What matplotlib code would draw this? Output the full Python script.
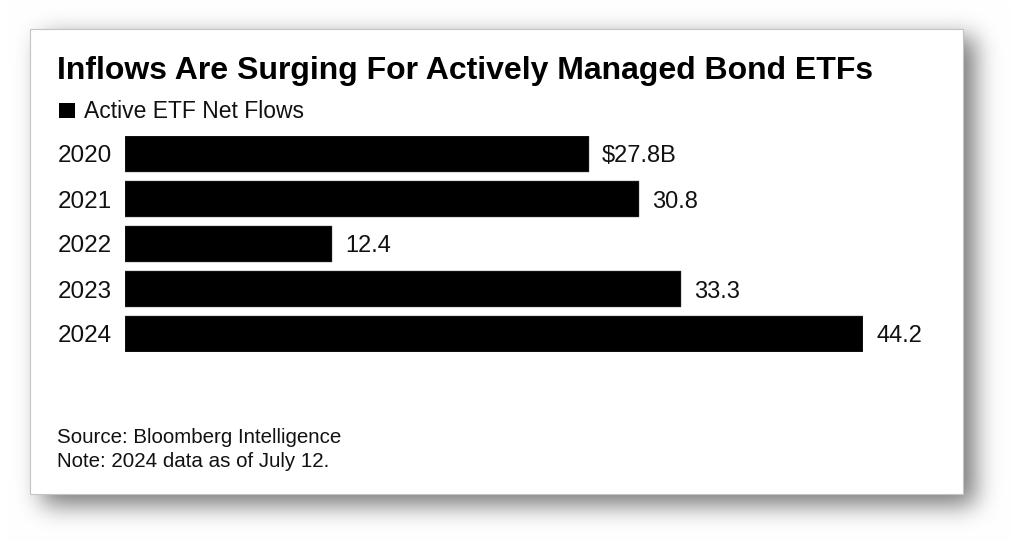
import numpy as np
import matplotlib
matplotlib.use("Agg")
import matplotlib.pyplot as plt
from matplotlib.patches import Rectangle

# ---- data ----
years = ["2020", "2021", "2022", "2023", "2024"]
flows = [27.8, 30.8, 12.4, 33.3, 44.2]
value_labels = ["$27.8B", "30.8", "12.4", "33.3", "44.2"]
title = "Inflows Are Surging For Actively Managed Bond ETFs"
legend_label = "Active ETF Net Flows"
source_lines = ["Source: Bloomberg Intelligence", "Note: 2024 data as of July 12."]

W, H = 1024, 554
plt.rcParams['font.family'] = ['Liberation Sans', 'DejaVu Sans']

fig = plt.figure(figsize=(W / 100, H / 100), dpi=100)
fig.patch.set_facecolor("white")

def fx(x):
    return x / W

def fy(y):
    return 1 - y / H

# ---- background with drop shadow ----
card = (30, 29, 963, 494)  # left, top, right, bottom in px
mask = np.zeros((H, W))
mask[37:505, 42:975] = 1.0
sigma = 12.0
r = int(3 * sigma)
k = np.exp(-0.5 * (np.arange(-r, r + 1) / sigma) ** 2)
k /= k.sum()
blur = np.apply_along_axis(lambda v: np.convolve(v, k, mode="same"), 1, mask)
blur = np.apply_along_axis(lambda v: np.convolve(v, k, mode="same"), 0, blur)
dark = 0.53 * blur
img = np.dstack([1 - dark] * 3)
bg = fig.add_axes([0, 0, 1, 1])
bg.imshow(img, extent=(0, W, H, 0), aspect="auto", interpolation="bilinear")
bg.set_xlim(0, W)
bg.set_ylim(H, 0)
bg.axis("off")
bg.add_patch(Rectangle((card[0], card[1]), card[2] - card[0], card[3] - card[1],
                       facecolor="white", edgecolor="#c4c4c4", linewidth=0.8))

# ---- bar chart ----
bar_left, bar_right = 125, 863
top, bottom = 136, 352
ax = fig.add_axes([fx(bar_left), fy(bottom), (bar_right - bar_left) / W, (bottom - top) / H])
ypos = np.arange(len(years))
ax.barh(ypos, flows, height=0.8, color="black", edgecolor="#555555", linewidth=0.3)
ax.set_xlim(0, max(flows))
ax.set_ylim(len(years) - 0.6, -0.4)
ax.set_yticks(ypos)
ax.set_yticklabels(years, fontsize=17.5, color="#111111", va="center_baseline")
ax.tick_params(axis="y", length=0, pad=9.5)
ax.set_xticks([])
for s in ax.spines.values():
    s.set_visible(False)
ax.patch.set_alpha(0)
for yv, v, lab in zip(ypos, flows, value_labels):
    ax.annotate(lab, (v, yv), xytext=(13, 0), textcoords="offset pixels",
                ha="left", va="center_baseline", fontsize=17, color="#111111",
                annotation_clip=False)

# ---- texts ----
fig.text(fx(57), fy(79), title, fontsize=23, fontweight="bold",
         color="black", ha="left", va="baseline")
bg.add_patch(Rectangle((59, 103), 16, 15, facecolor="black", edgecolor="none"))
fig.text(fx(84), fy(118), legend_label, fontsize=16.5, color="#111111",
         ha="left", va="baseline")
fig.text(fx(57), fy(443), source_lines[0], fontsize=14.8, color="#111111",
         ha="left", va="baseline")
fig.text(fx(57), fy(467), source_lines[1], fontsize=14.8, color="#111111",
         ha="left", va="baseline")

fig.savefig("out.png", dpi=100, facecolor="white")
